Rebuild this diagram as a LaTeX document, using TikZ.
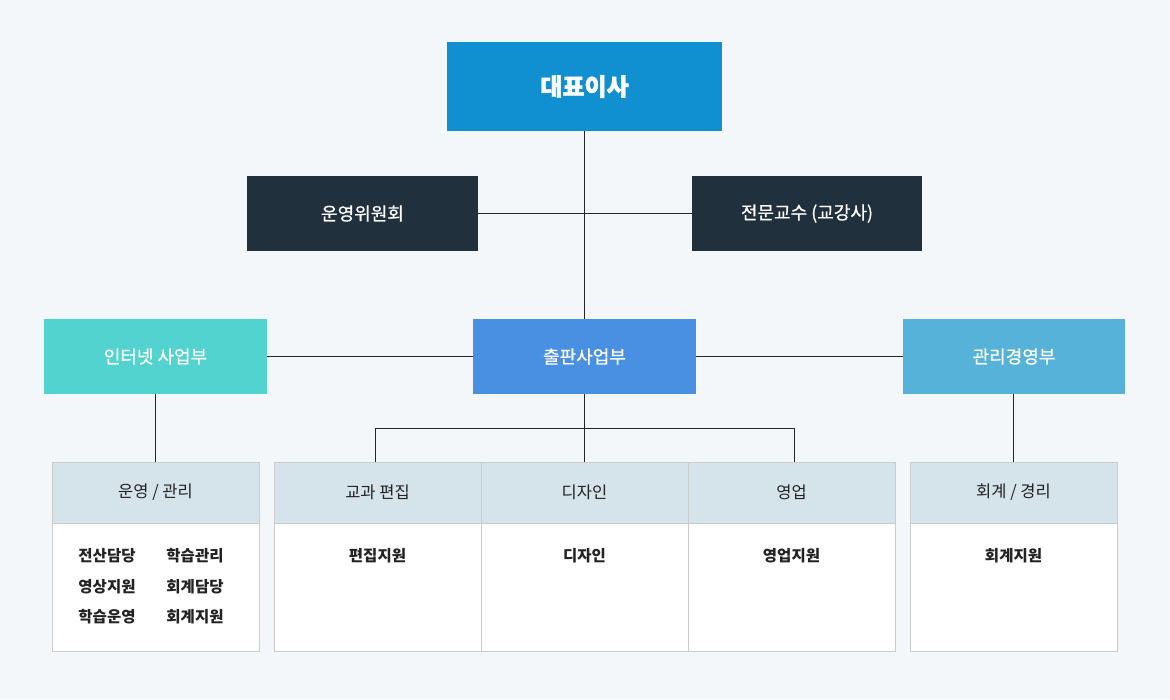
\documentclass[tikz,border=0pt]{standalone}
\usepackage{fontspec}
\setmainfont{Noto Sans CJK KR}
\newfontfamily\kr{Noto Sans CJK KR}
\newfontfamily\krmed{Noto Sans CJK KR}[FakeBold=0.6]
\newfontfamily\krheavy{Noto Sans CJK KR}[FakeBold=1.8]
\definecolor{bgc}{HTML}{F4F7FA}
\definecolor{ceoc}{HTML}{1190D1}
\definecolor{darkc}{HTML}{20313D}
\definecolor{cyanc}{HTML}{52D3D0}
\definecolor{bluec}{HTML}{4A90E2}
\definecolor{skyc}{HTML}{56B2D8}
\definecolor{headc}{HTML}{D5E3EB}
\definecolor{bordc}{HTML}{CCCCCC}
\definecolor{txtc}{HTML}{222222}
\begin{document}
\begin{tikzpicture}[x=1pt,y=-1pt,
  box/.style={draw=none,inner sep=0pt,text=white,font=\krmed\fontsize{18}{20}\selectfont},
  link/.style={draw=black!85,line width=0.8pt},
  head/.style={fill=headc,draw=bordc,line width=0.8pt},
  body/.style={fill=white,draw=bordc,line width=0.8pt},
  htext/.style={text=txtc,font=\kr\fontsize{16.5}{18}\selectfont},
  itext/.style={text=txtc,font=\kr\bfseries\fontsize{15.5}{17}\selectfont}
]
\fill[bgc] (0,0) rectangle (1170,699);
\useasboundingbox (0,0) rectangle (1170,699);

% top boxes
\node[box,fill=ceoc,minimum width=275pt,minimum height=89pt,font=\krheavy\bfseries\fontsize{24}{26}\selectfont] (ceo) at (584.5,86.5) {대표이사};
\node[box,fill=darkc,minimum width=231pt,minimum height=75pt] (comm) at (362.5,213.5) {운영위원회};
\node[box,fill=darkc,minimum width=230pt,minimum height=75pt] (prof) at (807,213.5) {전문교수 (교강사)};

\node[box,fill=cyanc,minimum width=223pt,minimum height=75pt] (inet) at (155.5,356.5) {인터넷 사업부};
\node[box,fill=bluec,minimum width=223pt,minimum height=75pt] (pub) at (584.5,356.5) {출판사업부};
\node[box,fill=skyc,minimum width=222pt,minimum height=75pt] (mgmt) at (1014,356.5) {관리경영부};

% panels
\draw[body] (52,523) rectangle (259,651);
\draw[head] (52,462) rectangle (259,523);
\node[htext] (h1) at (155.5,492.5) {운영 / 관리};
\draw[body] (274,523) rectangle (481,651);
\draw[body] (481,523) rectangle (688,651);
\draw[body] (688,523) rectangle (895,651);
\draw[head] (274,462) rectangle (481,523);
\draw[head] (481,462) rectangle (688,523);
\draw[head] (688,462) rectangle (895,523);
\node[htext] (h2) at (377.5,492.5) {교과 편집};
\node[htext] (h3) at (584.5,492.5) {디자인};
\node[htext] (h4) at (791.5,492.5) {영업};
\draw[body] (910,523) rectangle (1117,651);
\draw[head] (910,462) rectangle (1117,523);
\node[htext] (h5) at (1013.5,492.5) {회계 / 경리};

% items
\node[itext] (i1) at (107,556) {전산담당};
\node[itext] (i2) at (195,556) {학습관리};
\node[itext] (i3) at (107,587) {영상지원};
\node[itext] (i4) at (195,587) {회계담당};
\node[itext] (i5) at (107,617) {학습운영};
\node[itext] (i6) at (195,617) {회계지원};
\node[itext] (i7) at (377.5,556) {편집지원};
\node[itext] (i8) at (584.5,556) {디자인};
\node[itext] (i9) at (791.5,556) {영업지원};
\node[itext] (i10) at (1013.5,556) {회계지원};

% connectors
\draw[link] (ceo.south) -- (pub.north);
\draw[link] (comm.east) -- (prof.west);
\draw[link] (inet.east) -- (pub.west);
\draw[link] (pub.east) -- (mgmt.west);
\coordinate (t1) at (155.5,462);
\draw[link] (inet.south) -- (t1);
\coordinate (t5) at (1013.5,462);
\draw[link] (t5 |- mgmt.south) -- (t5);
\coordinate (bl) at (375,428);
\coordinate (br) at (794,428);
\coordinate (bll) at (375,462);
\coordinate (brr) at (794,462);
\coordinate (t3) at (584.5,462);
\draw[link] (pub.south) -- (t3);
\draw[link] (bll) -- (bl) -- (br) -- (brr);
\end{tikzpicture}
\end{document}
